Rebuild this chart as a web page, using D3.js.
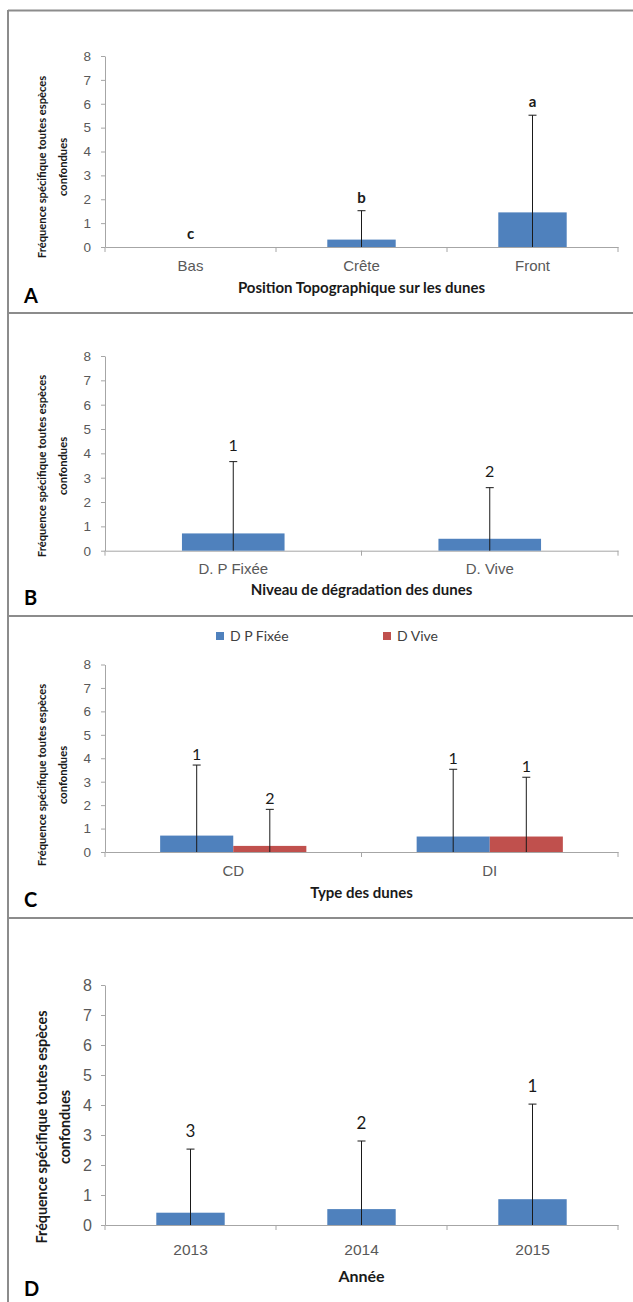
<!DOCTYPE html>
<html>
<head>
<meta charset="utf-8">
<script src="https://cdn.jsdelivr.net/npm/d3@7"></script>
<style>
body { margin: 0; background: #fff; }
svg { display: block; font-family: Lato, "Open Sans", sans-serif; }
</style>
</head>
<body>
<div id="fig"></div>
<script>
// panel A - position topographique
var catsA = ["Bas", "Crête", "Front"];
var meanA = [0, 0.31, 1.45];
var errA = [0, 1.52, 5.52];
var letA = ["c", "b", "a"];

// panel B - niveau de degradation
var catsB = ["D. P Fixée", "D. Vive"];
var meanB = [0.71, 0.49];
var errB = [3.66, 2.59];
var letB = ["1", "2"];

// panel C - type des dunes (2 series)
var catsC = ["CD", "DI"];
var seriesC = ["D P Fixée", "D Vive"];
var fixeeC = [0.70, 0.66];
var viveC = [0.26, 0.66];
var errFixeeC = [3.71, 3.53];
var errViveC = [1.82, 3.19];
var letFixeeC = ["1", "1"];
var letViveC = ["2", "1"];

// panel D - annee
var catsD = ["2013", "2014", "2015"];
var meanD = [0.41, 0.53, 0.86];
var errD = [2.53, 2.80, 4.03];
var letD = ["3", "2", "1"];

var yTicks = [0, 1, 2, 3, 4, 5, 6, 7, 8];

var w = 633, h = 1302;
var blue = "#4f81bd", red = "#c0504d", grey = "#595959", axisCol = "#a6a6a6";
var yTitle1 = "Fréquence spécifique toutes espèces", yTitle2 = "confondues";

var svg = d3.select("#fig").append("svg")
    .attr("width", w)
    .attr("height", h);

// frame lines between panels
var tops = [10.5, 313, 616, 918];
svg.selectAll("line.frame")
   .data(tops)
   .enter()
   .append("line")
   .attr("x1", 8).attr("x2", w)
   .attr("y1", function(d){ return d; })
   .attr("y2", function(d){ return d; })
   .attr("stroke", "#8c8c8c")
   .attr("stroke-width", 2);
svg.append("line")
   .attr("x1", 8).attr("x2", 8)
   .attr("y1", 10).attr("y2", h)
   .attr("stroke", "#8c8c8c")
   .attr("stroke-width", 2);

function panel(o) {
    var x = d3.scaleBand().domain(o.cats).range([105, 618]);
    var y = d3.scaleLinear().domain([0, 8]).range([o.y0, o.y8]);
    var bw = x.bandwidth();
    var g = svg.append("g");

    //y axis
    var ya = g.append("g")
        .attr("transform", "translate(105,0)")
        .call(d3.axisLeft(y).tickValues(yTicks).tickSize(4).tickSizeOuter(0).tickPadding(o.tickPad));
    ya.select(".domain").attr("stroke", axisCol);
    ya.selectAll(".tick line").attr("stroke", axisCol);
    ya.selectAll("text").attr("fill", grey).style("font-size", o.tickFs + "px");

    //x axis
    var pad = o.catY - o.y0 - 0.71 * o.catFs;
    var xa = g.append("g")
        .attr("transform", "translate(0," + o.y0 + ")")
        .call(d3.axisBottom(x).tickSize(0).tickSizeOuter(0).tickPadding(pad));
    xa.select(".domain").attr("stroke", axisCol);
    xa.selectAll("text").attr("fill", grey).style("font-size", o.catFs + "px");
    // category boundary ticks
    g.selectAll("line.bound")
     .data(d3.range(o.cats.length + 1))
     .enter()
     .append("line")
     .attr("x1", function(i){ return 105 + i * x.step(); })
     .attr("x2", function(i){ return 105 + i * x.step(); })
     .attr("y1", o.y0).attr("y2", o.y0 + 5)
     .attr("stroke", axisCol);

    //bars
    var nS = o.series.length;
    var barW = bw * (nS == 1 ? 0.4 : 0.285);
    var off = (bw - nS * barW) / 2;
    o.series.forEach(function(s, si) {
        var rows = o.cats.map(function(c, i) {
            return { c: c, v: s.vals[i], e: s.errs[i], l: s.labs[i] };
        });
        var cx = function(d){ return x(d.c) + off + si * barW + barW / 2; };
        g.selectAll("rect.s" + si)
         .data(rows.filter(function(d){ return d.v > 0; }))
         .enter()
         .append("rect")
         .attr("x", function(d){ return x(d.c) + off + si * barW; })
         .attr("y", function(d){ return y(d.v); })
         .attr("width", barW)
         .attr("height", function(d){ return o.y0 - y(d.v); })
         .attr("fill", s.color);
        // error bars
        var eb = rows.filter(function(d){ return d.e > 0; });
        g.selectAll("line.e" + si)
         .data(eb).enter().append("line")
         .attr("x1", cx).attr("x2", cx)
         .attr("y1", o.y0)
         .attr("y2", function(d){ return y(d.e); })
         .attr("stroke", "#1a1a1a");
        g.selectAll("line.c" + si)
         .data(eb).enter().append("line")
         .attr("x1", function(d){ return cx(d) - 4; })
         .attr("x2", function(d){ return cx(d) + 4; })
         .attr("y1", function(d){ return y(d.e); })
         .attr("y2", function(d){ return y(d.e); })
         .attr("stroke", "#1a1a1a");
        // letters
        g.selectAll("text.l" + si)
         .data(rows).enter().append("text")
         .attr("x", cx)
         .attr("y", function(d){ return y(d.e) - o.gap; })
         .attr("text-anchor", "middle")
         .attr("fill", "#1a1a1a")
         .style("font-size", o.labFs + "px")
         .style("font-weight", o.labW)
         .text(function(d){ return d.l; });
    });

    // x title
    g.append("text")
     .attr("x", 361.5).attr("y", o.xtY)
     .attr("text-anchor", "middle")
     .attr("fill", "#1a1a1a")
     .style("font-size", o.xtFs + "px")
     .style("font-weight", "bold")
     .text(o.xTitle);

    // y title (two lines)
    var yt = g.append("g")
        .attr("transform", "translate(0," + o.ytC + ") rotate(-90)");
    yt.append("text")
      .attr("x", 0).attr("y", o.yt1)
      .attr("text-anchor", "middle")
      .attr("dominant-baseline", "central")
      .attr("fill", "#1a1a1a")
      .style("font-size", o.ytFs + "px")
      .style("font-weight", "bold")
      .text(yTitle1);
    yt.append("text")
      .attr("x", 0).attr("y", o.yt2)
      .attr("text-anchor", "middle")
      .attr("dominant-baseline", "central")
      .attr("fill", "#1a1a1a")
      .style("font-size", o.ytFs + "px")
      .style("font-weight", "bold")
      .text(yTitle2);

    // panel letter
    g.append("text")
     .attr("x", 24).attr("y", o.letY)
     .attr("fill", "#000")
     .style("font-size", "20px")
     .style("font-weight", "bold")
     .text(o.letter);
}

panel({
    cats: catsA, y0: 247, y8: 56, catY: 271, xtY: 293, letY: 303, ytC: 167,
    yt1: 41, yt2: 62, ytFs: 11.2, tickFs: 13.5, tickPad: 10, catFs: 15, xtFs: 15,
    labFs: 15, labW: "bold", gap: 8, letter: "A",
    xTitle: "Position Topographique sur les dunes",
    series: [{ vals: meanA, errs: errA, labs: letA, color: blue }]
});

panel({
    cats: catsB, y0: 550.7, y8: 356, catY: 574, xtY: 595, letY: 605, ytC: 466,
    yt1: 41, yt2: 62, ytFs: 11.2, tickFs: 13.5, tickPad: 10, catFs: 15, xtFs: 15,
    labFs: 16, labW: "normal", gap: 11, letter: "B",
    xTitle: "Niveau de dégradation des dunes",
    series: [{ vals: meanB, errs: errB, labs: letB, color: blue }]
});

panel({
    cats: catsC, y0: 852, y8: 664.5, catY: 876, xtY: 898, letY: 907, ytC: 775,
    yt1: 41, yt2: 62, ytFs: 11.2, tickFs: 13.5, tickPad: 10, catFs: 15, xtFs: 15,
    labFs: 16, labW: "normal", gap: 5, letter: "C",
    xTitle: "Type des dunes",
    series: [
        { vals: fixeeC, errs: errFixeeC, labs: letFixeeC, color: blue },
        { vals: viveC, errs: errViveC, labs: letViveC, color: red }
    ]
});

panel({
    cats: catsD, y0: 1225, y8: 985, catY: 1255, xtY: 1282, letY: 1296, ytC: 1127,
    yt1: 41, yt2: 64, ytFs: 14.3, tickFs: 16, tickPad: 9, catFs: 15.5, xtFs: 16,
    labFs: 17, labW: "normal", gap: 12, letter: "D",
    xTitle: "Année",
    series: [{ vals: meanD, errs: errD, labs: letD, color: blue }]
});

// legend for panel C
var leg = svg.append("g").selectAll("g")
    .data(seriesC)
    .enter()
    .append("g")
    .attr("transform", function(d, i){ return "translate(" + (i == 0 ? 216 : 383) + ",632)"; });
leg.append("rect")
   .attr("width", 8).attr("height", 8)
   .attr("fill", function(d, i){ return i == 0 ? blue : red; });
leg.append("text")
   .attr("x", 14).attr("y", 9)
   .attr("fill", "#404040")
   .style("font-size", "14px")
   .text(function(d){ return d; });
</script>
</body>
</html>
